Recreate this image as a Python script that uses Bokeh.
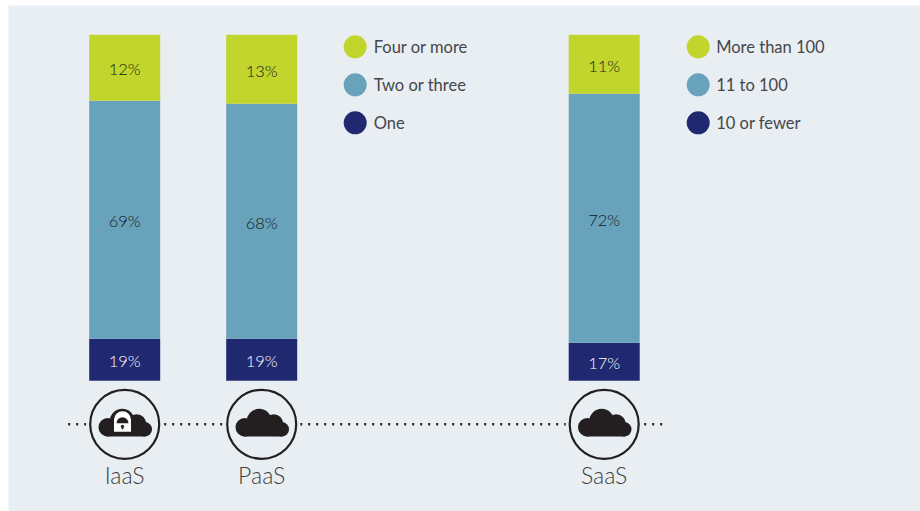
from bokeh.plotting import figure
from bokeh.models import Range1d
from bokeh.embed import file_html
from bokeh.resources import INLINE
from bokeh.core.properties import value

# ---- data ----
platforms = ["IaaS", "PaaS", "SaaS"]
platform_slots = [0, 1, 3.5]
has_lock = [True, False, False]
# printed percentages
low_pct = [19, 19, 17]
mid_pct = [69, 68, 72]
high_pct = [12, 13, 11]
# drawn segment heights (the source's bars are not proportional to their labels)
low_drawn = [42, 42, 38]
mid_drawn = [238, 235, 249]
high_drawn = [66, 69, 59]
legend_left = ["Four or more", "Two or three", "One"]
legend_right = ["More than 100", "11 to 100", "10 or fewer"]

LIME, TEAL, NAVY = "#c1d52c", "#68a2bb", "#20286f"
BG, INK = "#e9eef3", "#231f20"
FONT = value("Lato")
LIGHT = value("Lato Light")

X0, STEP, BAR_W = 124.5, 137, 71
BASE = 381  # page-pixel row of the bars' baseline
def Y(page_y):
    return BASE - page_y

p = figure(width=912, height=506, output_backend="svg", toolbar_location=None,
           x_range=Range1d(8.3, 920.3), y_range=Range1d(Y(511.7), Y(5.7)),
           min_border=0, margin=(5, 0, 0, 8))
p.axis.visible = False
p.grid.visible = False
p.outline_line_color = None
p.background_fill_color = BG
p.border_fill_color = BG

centers = [X0 + STEP * s for s in platform_slots]

# stacked bars
bottom = [0, 0, 0]
segments = [(low_drawn, low_pct, NAVY, "#ffffff"),
            (mid_drawn, mid_pct, TEAL, "#15181b"),
            (high_drawn, high_pct, LIME, "#15181b")]
for drawn, pct, color, tcolor in segments:
    top = [b + d for b, d in zip(bottom, drawn)]
    p.vbar(x=centers, bottom=bottom, top=top, width=BAR_W, fill_color=color, line_color=None)
    mid = [(b + t) / 2 - 1.5 for b, t in zip(bottom, top)]
    p.text(x=centers, y=mid, text=[f"{v}%" for v in pct], text_font=LIGHT,
           text_font_size="16.5px", text_color=tcolor,
           text_align="center", text_baseline="middle")
    bottom = top

# dotted connector
ROW = Y(424.5)
p.line([68, 662], [ROW, ROW], line_color=INK, line_width=2.5, line_dash="2 6")

# icons
for cx, lock, name in zip(centers, has_lock, platforms):
    p.circle(x=[cx], y=[ROW], radius=38.5, fill_color=BG, line_color=None)
    p.circle(x=[cx], y=[ROW], radius=34.5, fill_color=BG, line_color=INK, line_width=2.2)
    # cloud body: overlapping lobes and a flat base
    lobes = [(-17, 427.5, 9.2), (-2.5, 421.5, 12.5), (12, 424, 9.5), (20, 429.5, 7.3)]
    for dx, py, r in lobes:
        p.circle(x=[cx + dx], y=[Y(py)], radius=r, fill_color=INK, line_color=None)
    p.quad(left=[cx - 18], right=[cx + 21], top=[Y(426)], bottom=[Y(436.7)],
           fill_color=INK, line_color=None)
    if lock:
        lx = cx - 2.2
        p.circle(x=[lx], y=[Y(420)], radius=8.5, fill_color="#ffffff", line_color=None)
        p.quad(left=[lx - 8.5], right=[lx + 8.5], top=[Y(420)], bottom=[Y(432)],
               fill_color="#ffffff", line_color=None)
        p.wedge(x=[lx], y=[Y(423.5)], radius=6, start_angle=0, end_angle=3.14159,
                fill_color=INK, line_color=None)
        p.circle(x=[lx], y=[Y(426.5)], radius=1.6, fill_color=INK, line_color=None)
        p.quad(left=[lx - 0.9], right=[lx + 0.9], top=[Y(426.5)], bottom=[Y(429.5)],
               fill_color=INK, line_color=None)
    p.text(x=[cx], y=[Y(475)], text=[name], text_font=LIGHT, text_font_size="23px",
           text_color="#3e3e3e", text_align="center", text_baseline="middle")

# legends
rows = [Y(47), Y(85), Y(123)]
colors = [LIME, TEAL, NAVY]
for mark_x, text_x, labels in [(355, 373.5, legend_left), (698, 716, legend_right)]:
    p.circle(x=[mark_x] * 3, y=rows, radius=11.5, fill_color=colors, line_color=None)
    p.text(x=[text_x] * 3, y=rows, text=labels, text_font=FONT, text_font_size="16.5px",
           text_color="#44474a", text_align="left", text_baseline="middle")

open("out.html", "w").write(file_html(p, INLINE))
